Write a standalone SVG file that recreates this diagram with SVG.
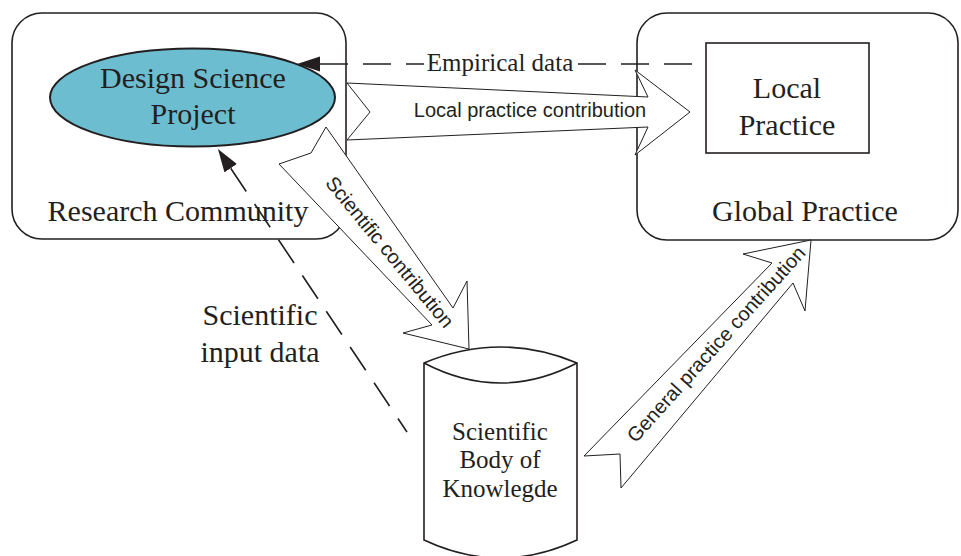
<svg xmlns="http://www.w3.org/2000/svg" width="961" height="556" viewBox="0 0 961 556">
  <defs>
    <style>
      .frame{fill:none;stroke:#231f20;stroke-width:1.6}
      .serif{font-family:"Liberation Serif","Times New Roman",serif;fill:#231f20;text-anchor:middle}
      .big{font-size:30px}
      .mid{font-size:25px}
      .sans{font-family:"Liberation Sans",Arial,sans-serif;font-size:20px;fill:#231f20;text-anchor:middle}
      .block{fill:#ffffff;stroke:#231f20;stroke-width:1;stroke-linejoin:miter}
      .dash{fill:none;stroke:#231f20;stroke-width:1.6;stroke-dasharray:28 15}
    </style>
    <marker id="head" markerUnits="userSpaceOnUse" markerWidth="24" markerHeight="16" refX="0" refY="7.5" orient="auto-start-reverse">
      <path d="M0,0 L23,7.5 L0,15 z" fill="#231f20"/>
    </marker>
  </defs>

  <rect x="0" y="0" width="961" height="556" fill="#ffffff"/>

  <!-- containers -->
  <g id="research-community">
    <rect class="frame" x="12" y="13" width="334" height="226" rx="30"/>
    <text class="serif big" x="178" y="221">Research Community</text>
  </g>

  <g id="global-practice">
    <rect class="frame" x="637" y="13" width="321" height="227" rx="30"/>
    <text class="serif big" x="805" y="221">Global Practice</text>
  </g>

  <g id="design-science-project">
    <ellipse cx="192.5" cy="97.5" rx="142.5" ry="49" fill="#6dbdd0" stroke="#231f20" stroke-width="2"/>
    <text class="serif big" x="193" y="88">Design Science</text>
    <text class="serif big" x="193" y="124">Project</text>
  </g>

  <g id="local-practice">
    <rect class="frame" x="706" y="43" width="163" height="110"/>
    <text class="serif big" x="787" y="98">Local</text>
    <text class="serif big" x="787" y="135">Practice</text>
  </g>

  <g id="body-of-knowledge">
    <path class="frame" stroke-width="1.2" d="M424,363 Q500.5,331 577,363 L577,540 Q500.5,576 424,540 Z"/>
    <path class="frame" stroke-width="1.2" d="M424,363 Q500.5,403 577,363"/>
    <text class="serif mid" x="500" y="440">Scientific</text>
    <text class="serif mid" x="500" y="468">Body of</text>
    <text class="serif mid" x="500" y="497">Knowlegde</text>
  </g>

  <!-- connectors -->
  <g id="connectors">
    <!-- empirical data: local practice back to the project -->
    <path class="dash" d="M320,64 L692,64" marker-start="url(#head)"/>
    <rect x="424" y="49" width="152" height="26" fill="#ffffff"/>
    <text class="serif mid" x="500" y="71">Empirical data</text>

    <!-- scientific input data: knowledge base to the project -->
    <path class="dash" d="M230.7,168.2 L407,432" marker-start="url(#head)"/>
    <text class="serif big" x="260" y="325">Scientific</text>
    <text class="serif big" x="260" y="362">input data</text>

    <!-- block arrows -->
    <polygon class="block" points="347,83 648,97 635,70 690,112 635,155 648,127 347,140 370,112"/>
    <text class="sans" x="530" y="117">Local practice contribution</text>

    <polygon class="block" points="326,127 453,308 467,281 469,349 403,333 432,325 279,164 311,153"/>
    <text class="sans" x="384.6" y="256.5" transform="rotate(50.5 384.6 256.5)">Scientific contribution</text>

    <polygon class="block" points="811,240 805,311 793,283 621,488 620,454 584,456 772,263 743,254"/>
    <text class="sans" x="721.2" y="348.7" transform="rotate(-48 721.2 348.7)">General practice contribution</text>
  </g>
</svg>
